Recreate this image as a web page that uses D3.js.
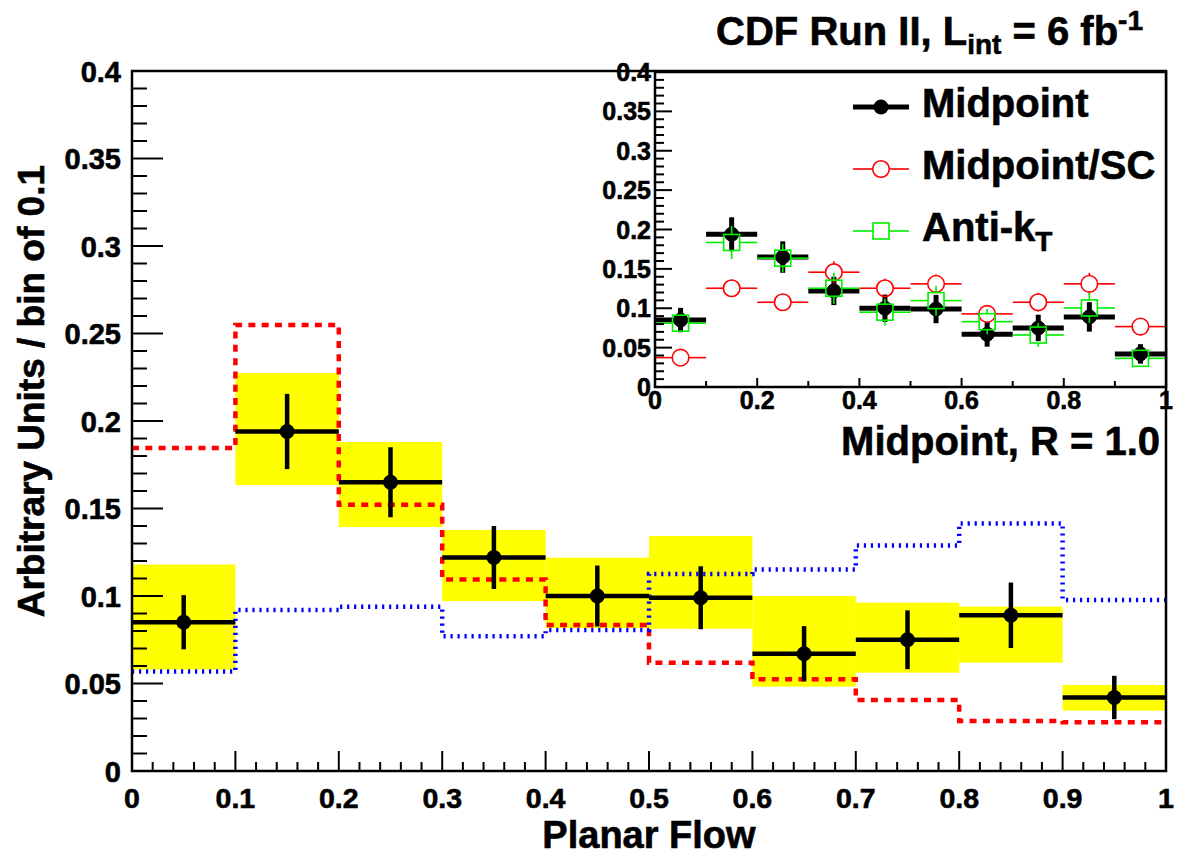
<!DOCTYPE html>
<html>
<head>
<meta charset="utf-8">
<script src="https://cdn.jsdelivr.net/npm/d3@7"></script>
<style>
  html, body { margin: 0; padding: 0; background: #fff; }
  svg { display: block; font-family: "Liberation Sans", Arial, Helvetica, sans-serif; font-weight: bold; }
  svg text { stroke: #000; stroke-width: 0.6px; paint-order: stroke; }
</style>
</head>
<body>
<svg id="chart" width="1184" height="856"></svg>
<script>
// ---- data: planar flow distribution, 10 bins of width 0.1 ----
const binLow = [0.0, 0.1, 0.2, 0.3, 0.4, 0.5, 0.6, 0.7, 0.8, 0.9];
const binWidth = 0.1;

// Midpoint R = 1.0 data with statistical errors
const midpoint    = [0.085, 0.194, 0.165, 0.122, 0.100, 0.099, 0.067, 0.075, 0.089, 0.042];
const midpointErr = [0.0155, 0.0215, 0.020, 0.018, 0.0174, 0.018, 0.0158, 0.0168, 0.0187, 0.0124];

// systematic uncertainty band (lower / upper edge)
const sysLow  = [0.058, 0.1634, 0.1394, 0.0971, 0.0817, 0.0813, 0.0482, 0.0562, 0.0619, 0.0345];
const sysHigh = [0.118, 0.2274, 0.188, 0.1377, 0.1219, 0.1343, 0.100, 0.0962, 0.0939, 0.0491];

// reference histograms (red dashed, blue dotted)
const redHist  = [0.1846, 0.2549, 0.1522, 0.1095, 0.0834, 0.0619, 0.0524, 0.0406, 0.0286, 0.0278];
const blueHist = [0.0568, 0.092, 0.0939, 0.077, 0.0806, 0.1126, 0.1152, 0.1288, 0.1415, 0.0977];

// inset: comparison of jet algorithms
const midpointSC    = [0.0373, 0.1254, 0.1076, 0.1458, 0.1254, 0.131, 0.0928, 0.1076, 0.131, 0.0767];
const midpointSCErr = [0.006, 0.011, 0.010, 0.014, 0.012, 0.012, 0.011, 0.012, 0.014, 0.011];
const antiKt        = [0.081, 0.1835, 0.1636, 0.1254, 0.095, 0.1097, 0.083, 0.066, 0.1004, 0.0364];
const antiKtErr     = [0.010, 0.021, 0.018, 0.020, 0.017, 0.019, 0.016, 0.015, 0.019, 0.008];

// tick labels
const mainXTicks = [0, 0.1, 0.2, 0.3, 0.4, 0.5, 0.6, 0.7, 0.8, 0.9, 1];
const mainYTicks = [0, 0.05, 0.1, 0.15, 0.2, 0.25, 0.3, 0.35, 0.4];
const insetXTicks = [0, 0.2, 0.4, 0.6, 0.8, 1];
const insetYTicks = [0, 0.05, 0.1, 0.15, 0.2, 0.25, 0.3, 0.35, 0.4];

const svg = d3.select("#chart");
const fmt = d => (d === 0 ? "0" : d === 1 ? "1" : String(+d.toFixed(2)));
const range = (a, b, s) => d3.range(Math.round((b - a) / s) + 1).map(i => +(a + i * s).toFixed(4));

// ---------------- main frame ----------------
const x = d3.scaleLinear().domain([0, 1]).range([132, 1166]);
const y = d3.scaleLinear().domain([0, 0.4]).range([771, 71]);

const main = svg.append("g");

// systematic band
main.selectAll("rect.sys").data(binLow).join("rect")
  .attr("x", d => x(d)).attr("width", d => x(d + binWidth) - x(d))
  .attr("y", (d, i) => y(sysHigh[i])).attr("height", (d, i) => y(sysLow[i]) - y(sysHigh[i]))
  .attr("fill", "#ffff00");

// step histogram path
function stepPoints(vals) {
  const pts = [];
  binLow.forEach((b, i) => { pts.push([b, vals[i]]); pts.push([b + binWidth, vals[i]]); });
  return pts;
}
const stepLine = d3.line().x(d => x(d[0])).y(d => y(d[1]));

main.append("path").attr("d", stepLine(stepPoints(redHist)))
  .attr("fill", "none").attr("stroke", "#ff0000").attr("stroke-width", 4.5)
  .attr("stroke-dasharray", "7,6.3");
main.append("path").attr("d", stepLine(stepPoints(blueHist)))
  .attr("fill", "none").attr("stroke", "#0000ff").attr("stroke-width", 4.5)
  .attr("stroke-dasharray", "2.2,4.8");

// data points with error bars
const pts = main.selectAll("g.pt").data(binLow).join("g");
pts.append("line")
  .attr("x1", d => x(d)).attr("x2", d => x(d + binWidth))
  .attr("y1", (d, i) => y(midpoint[i])).attr("y2", (d, i) => y(midpoint[i]))
  .attr("stroke", "#000").attr("stroke-width", 4.5);
pts.append("line")
  .attr("x1", d => x(d + binWidth / 2)).attr("x2", d => x(d + binWidth / 2))
  .attr("y1", (d, i) => y(midpoint[i] + midpointErr[i])).attr("y2", (d, i) => y(midpoint[i] - midpointErr[i]))
  .attr("stroke", "#000").attr("stroke-width", 4.5);
pts.append("circle")
  .attr("cx", d => x(d + binWidth / 2)).attr("cy", (d, i) => y(midpoint[i]))
  .attr("r", 7.5).attr("fill", "#000");

// axes of main frame
const axisG = svg.append("g").attr("stroke", "#000").attr("fill", "none");
axisG.append("rect").attr("x", x(0)).attr("y", y(0.4)).attr("width", x(1) - x(0)).attr("height", y(0) - y(0.4))
  .attr("stroke-width", 2.5);
range(0, 0.4, 0.01).forEach(v => {
  const major = Math.abs(v / 0.05 - Math.round(v / 0.05)) < 1e-6;
  axisG.append("line").attr("x1", x(0)).attr("x2", x(0) + (major ? 31 : 15))
    .attr("y1", y(v)).attr("y2", y(v)).attr("stroke-width", 2);
});
range(0, 1, 0.02).forEach(v => {
  const major = Math.abs(v / 0.1 - Math.round(v / 0.1)) < 1e-6;
  axisG.append("line").attr("x1", x(v)).attr("x2", x(v))
    .attr("y1", y(0)).attr("y2", y(0) - (major ? 20 : 9)).attr("stroke-width", 2);
});

svg.append("g").selectAll("text").data(mainYTicks).join("text")
  .attr("x", 121).attr("y", d => y(d) + 10.5).attr("text-anchor", "end")
  .attr("font-size", 29).text(fmt);
svg.append("g").selectAll("text").data(mainXTicks).join("text")
  .attr("x", d => x(d)).attr("y", 808).attr("text-anchor", "middle")
  .attr("font-size", 28.5).text(fmt);

svg.append("text").attr("x", (x(0) + x(1)) / 2).attr("y", 848).attr("text-anchor", "middle")
  .attr("font-size", 38).text("Planar Flow");
svg.append("text").attr("transform", "translate(44,165) rotate(-90)").attr("text-anchor", "end")
  .attr("font-size", 37).text("Arbitrary Units / bin of 0.1");

// ---------------- inset ----------------
const xi = d3.scaleLinear().domain([0, 1]).range([655, 1166]);
const yi = d3.scaleLinear().domain([0, 0.4]).range([387, 72]);
const inset = svg.append("g");
inset.append("rect").attr("x", xi(0)).attr("y", yi(0.4)).attr("width", xi(1) - xi(0)).attr("height", yi(0) - yi(0.4))
  .attr("fill", "#fff");

// error bars; 'gap' leaves room around open markers
function drawSeries(vals, errs, color, bw, ew, gap) {
  const g = inset.append("g").attr("stroke", color);
  binLow.forEach((b, i) => {
    const cx = xi(b + binWidth / 2), cy = yi(vals[i]);
    const top = yi(vals[i] + errs[i]), bot = yi(vals[i] - errs[i]);
    if (gap > 0) {
      g.append("line").attr("x1", xi(b)).attr("x2", cx - gap).attr("y1", cy).attr("y2", cy).attr("stroke-width", bw);
      g.append("line").attr("x1", cx + gap).attr("x2", xi(b + binWidth)).attr("y1", cy).attr("y2", cy).attr("stroke-width", bw);
      if (cy - top > gap) g.append("line").attr("x1", cx).attr("x2", cx).attr("y1", top).attr("y2", cy - gap).attr("stroke-width", ew);
      if (bot - cy > gap) g.append("line").attr("x1", cx).attr("x2", cx).attr("y1", cy + gap).attr("y2", bot).attr("stroke-width", ew);
    } else {
      g.append("line").attr("x1", xi(b)).attr("x2", xi(b + binWidth)).attr("y1", cy).attr("y2", cy).attr("stroke-width", bw);
      g.append("line").attr("x1", cx).attr("x2", cx).attr("y1", top).attr("y2", bot).attr("stroke-width", ew);
    }
  });
  return g;
}
const gMid = drawSeries(midpoint, midpointErr, "#000", 5, 5, 0);
binLow.forEach((b, i) => gMid.append("circle").attr("cx", xi(b + binWidth / 2)).attr("cy", yi(midpoint[i])).attr("r", 7).attr("fill", "#000"));
const gSC = drawSeries(midpointSC, midpointSCErr, "#ff0000", 1.6, 1.6, 8.3);
binLow.forEach((b, i) => gSC.append("circle").attr("cx", xi(b + binWidth / 2)).attr("cy", yi(midpointSC[i])).attr("r", 8.3)
  .attr("fill", "none").attr("stroke-width", 1.6));
const gAK = drawSeries(antiKt, antiKtErr, "#00ee00", 1.6, 1.6, 8);
binLow.forEach((b, i) => gAK.append("rect").attr("x", xi(b + binWidth / 2) - 8).attr("y", yi(antiKt[i]) - 8)
  .attr("width", 16).attr("height", 16).attr("fill", "none").attr("stroke-width", 1.6));

// inset axes
const ia = svg.append("g").attr("stroke", "#000").attr("fill", "none");
ia.append("rect").attr("x", xi(0)).attr("y", yi(0.4)).attr("width", xi(1) - xi(0)).attr("height", yi(0) - yi(0.4))
  .attr("stroke-width", 2.5);
range(0, 0.4, 0.01).forEach(v => {
  const major = Math.abs(v / 0.05 - Math.round(v / 0.05)) < 1e-6;
  ia.append("line").attr("x1", xi(0)).attr("x2", xi(0) + (major ? 17 : 9))
    .attr("y1", yi(v)).attr("y2", yi(v)).attr("stroke-width", 2);
});
range(0, 1, 0.1).forEach(v => {
  const major = Math.abs(v / 0.2 - Math.round(v / 0.2)) < 1e-6;
  ia.append("line").attr("x1", xi(v)).attr("x2", xi(v))
    .attr("y1", yi(0)).attr("y2", yi(0) - (major ? 9 : 6)).attr("stroke-width", 2);
});
svg.append("g").selectAll("text").data(insetYTicks).join("text")
  .attr("x", 651).attr("y", d => yi(d) + 9).attr("text-anchor", "end")
  .attr("font-size", 25).text(fmt);
svg.append("g").selectAll("text").data(insetXTicks).join("text")
  .attr("x", d => xi(d)).attr("y", 409).attr("text-anchor", "middle")
  .attr("font-size", 25).text(fmt);

// legend
const leg = svg.append("g");
const lx0 = 853, lx1 = 909, lxc = 881;
leg.append("line").attr("x1", lx0).attr("x2", lx1).attr("y1", 107).attr("y2", 107).attr("stroke", "#000").attr("stroke-width", 5);
leg.append("circle").attr("cx", lxc).attr("cy", 107).attr("r", 7.5).attr("fill", "#000");
leg.append("line").attr("x1", lx0).attr("x2", lxc - 8.3).attr("y1", 169).attr("y2", 169).attr("stroke", "#ff0000").attr("stroke-width", 1.6);
leg.append("line").attr("x1", lxc + 8.3).attr("x2", lx1).attr("y1", 169).attr("y2", 169).attr("stroke", "#ff0000").attr("stroke-width", 1.6);
leg.append("circle").attr("cx", lxc).attr("cy", 169).attr("r", 8.3).attr("fill", "none").attr("stroke", "#ff0000").attr("stroke-width", 1.6);
leg.append("line").attr("x1", lx0).attr("x2", lxc - 8).attr("y1", 231).attr("y2", 231).attr("stroke", "#00ee00").attr("stroke-width", 1.6);
leg.append("line").attr("x1", lxc + 8).attr("x2", lx1).attr("y1", 231).attr("y2", 231).attr("stroke", "#00ee00").attr("stroke-width", 1.6);
leg.append("rect").attr("x", lxc - 8).attr("y", 223).attr("width", 16).attr("height", 16).attr("fill", "none").attr("stroke", "#00ee00").attr("stroke-width", 1.6);
const legendRows = [
  { label: "Midpoint", y: 107 },
  { label: "Midpoint/SC", y: 169 },
  { label: "Anti-k", sub: "T", y: 231 }
];
legendRows.forEach(r => {
  const t = leg.append("text").attr("x", 922).attr("y", r.y + 10).attr("font-size", 40).text(r.label);
  if (r.sub) t.append("tspan").attr("dy", 10).attr("font-size", 28).text(r.sub);
});

// labels
const hdr = svg.append("text").attr("x", 1143).attr("y", 45).attr("text-anchor", "end").attr("font-size", 40);
hdr.append("tspan").text("CDF Run II, L");
hdr.append("tspan").attr("dy", 9).attr("font-size", 28).text("int");
hdr.append("tspan").attr("dy", -9).text(" = 6 fb");
hdr.append("tspan").attr("dy", -15).attr("font-size", 28).text("-1");

svg.append("text").attr("x", 1160).attr("y", 455).attr("text-anchor", "end").attr("font-size", 40)
  .text("Midpoint, R = 1.0");
</script>
</body>
</html>
